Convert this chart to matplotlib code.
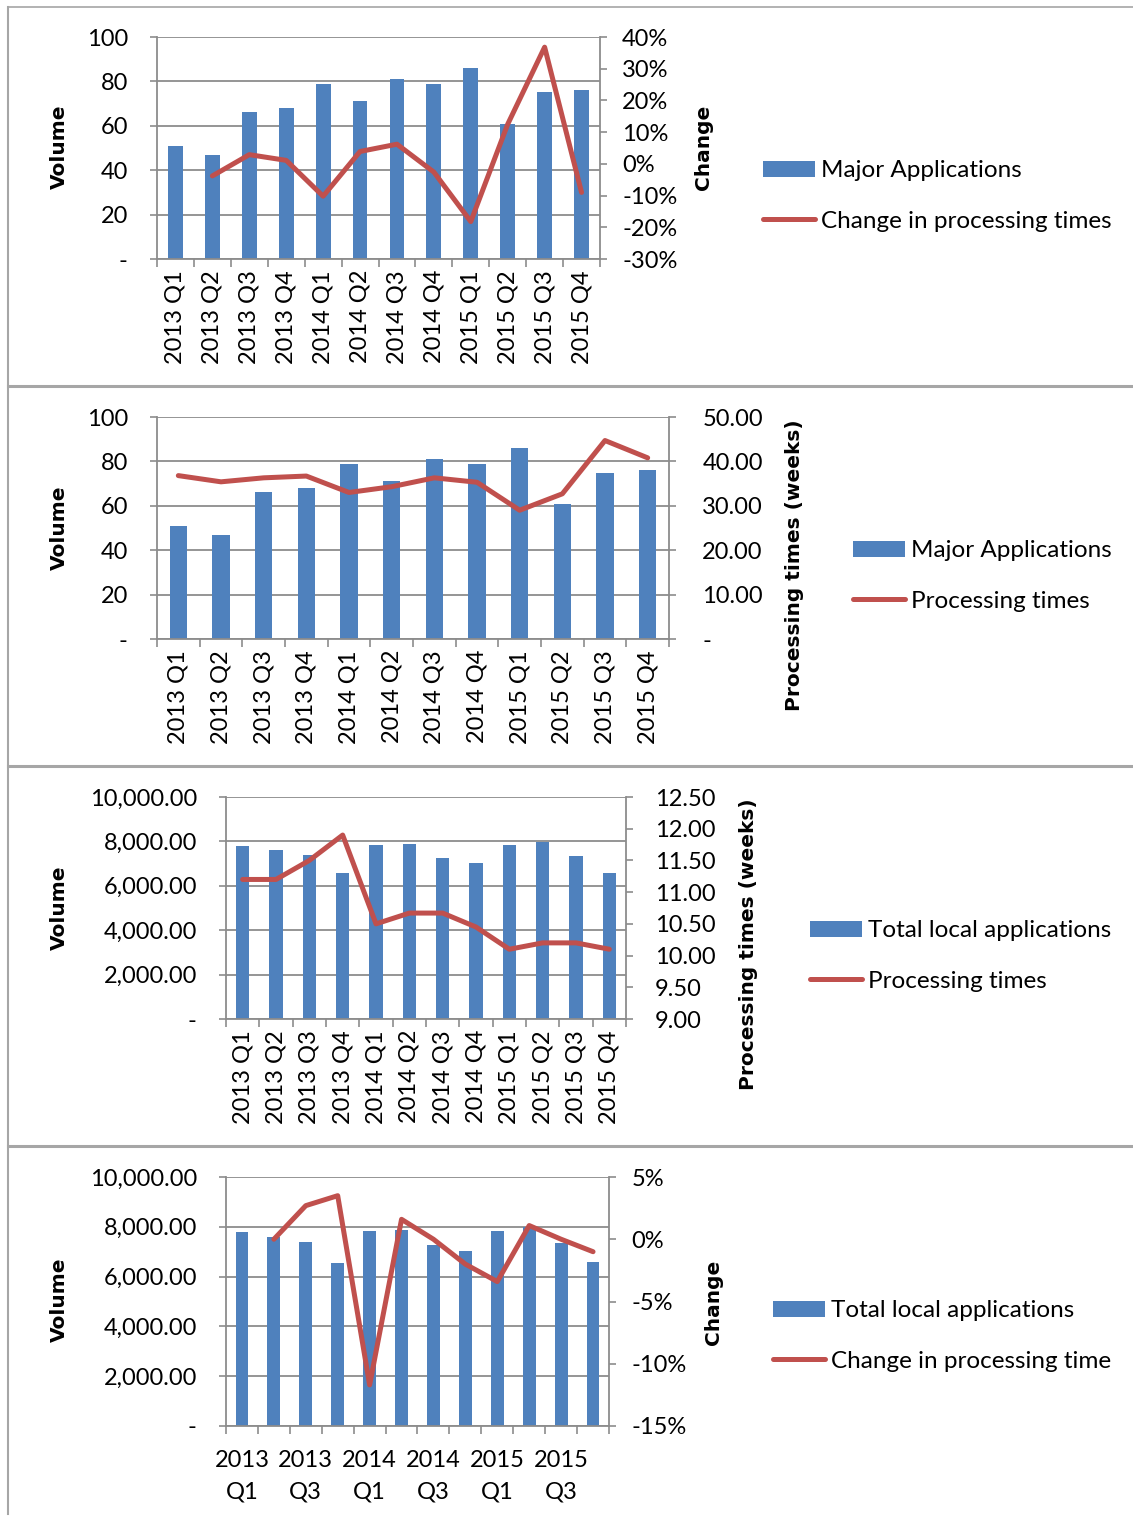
import matplotlib

matplotlib.use("Agg")

import matplotlib.pyplot as plt
import numpy as np
from matplotlib.lines import Line2D
from matplotlib.ticker import FuncFormatter, FixedLocator

# ---- data -----------------------------------------------------------------
quarters = [
    "2013 Q1", "2013 Q2", "2013 Q3", "2013 Q4",
    "2014 Q1", "2014 Q2", "2014 Q3", "2014 Q4",
    "2015 Q1", "2015 Q2", "2015 Q3", "2015 Q4",
]
major_volume = [51, 47, 66, 68, 79, 71, 81, 79, 86, 61, 75, 76]
major_times = [36.8, 35.4, 36.3, 36.7, 33.0, 34.3, 36.3, 35.3, 29.0, 32.7, 44.7, 40.8]
major_change = [np.nan, -3.8, 2.9, 1.1, -10.2, 3.9, 6.2, -2.6, -18.2, 12.5, 36.8, -9.0]

local_volume = [7780, 7610, 7370, 6560, 7840, 7880, 7250, 7030, 7840, 7990, 7340, 6580]
local_times = [11.2, 11.2, 11.5, 11.9, 10.5, 10.67, 10.67, 10.45, 10.1, 10.2, 10.2, 10.1]
local_change = [np.nan, 0.0, 2.7, 3.5, -11.7, 1.6, 0.0, -2.0, -3.4, 1.1, 0.0, -1.0]

# ---- style ----------------------------------------------------------------
W, H = 1133, 1517
BAR = "#4F81BD"
LINE = "#C0504D"
GRID = "#8C8C8C"
BORDER = "#A6A6A6"
FONT = "Lato"
TITLE_FONT = "DejaVu Sans"
FS = 17

plt.rcParams["font.family"] = [FONT, "DejaVu Sans"]
plt.rcParams["font.size"] = FS

fig = plt.figure(figsize=(W / 100, H / 100), dpi=100)


def px_axes(left, top, right, bottom):
    """Axes placed by pixel edges of the plot area."""
    return fig.add_axes([left / W, 1 - bottom / H, (right - left) / W, (bottom - top) / H])


def dash_zero(fmt):
    return FuncFormatter(lambda v, _: "-" if abs(v) < 1e-9 else fmt.format(v))


def combo_panel(box, vol, vol_ticks, vol_fmt, line_vals, line_ticks, line_fmt,
                bar_label, line_label, left_title, right_title, legend_at,
                right_pad=16, two_line_labels=False):
    left, top, right, bottom = box
    ax = px_axes(left, top, right, bottom)
    x = np.arange(len(quarters))

    bars = ax.bar(x, vol, width=0.4, color=BAR, zorder=2, label=bar_label)
    ax.set_xlim(-0.5, len(quarters) - 0.5)
    ax.set_ylim(vol_ticks[0], vol_ticks[-1])
    ax.set_yticks(vol_ticks)
    ax.yaxis.set_major_formatter(vol_fmt)
    ax.set_axisbelow(True)
    ax.grid(axis="y", color=GRID, linewidth=1.3)

    # category tick marks sit between the bars
    ax.xaxis.set_minor_locator(FixedLocator(np.arange(-0.5, len(quarters), 1.0)))
    ax.tick_params(axis="x", which="minor", length=6, width=1.2, color=GRID)
    if two_line_labels:
        ax.set_xticks(x[::2])
        ax.set_xticklabels([q.replace(" ", "\n") for q in quarters[::2]],
                           linespacing=1.62)
        ax.tick_params(axis="x", which="major", length=0, pad=17)
    else:
        ax.set_xticks(x)
        ax.set_xticklabels(quarters, rotation=90)
        ax.tick_params(axis="x", which="major", length=0, pad=8)
    ax.tick_params(axis="y", length=5, width=1.2, color=GRID, pad=16)

    for side in ("left", "bottom"):
        ax.spines[side].set_color(GRID)
        ax.spines[side].set_linewidth(1.3)
    ax.spines["top"].set_visible(False)
    ax.spines["right"].set_visible(False)

    ax2 = ax.twinx()
    (line,) = ax2.plot(x, line_vals, color=LINE, linewidth=3.6,
                       solid_capstyle="round", solid_joinstyle="round",
                       label=line_label)
    ax2.set_ylim(line_ticks[0], line_ticks[-1])
    ax2.set_yticks(line_ticks)
    ax2.yaxis.set_major_formatter(line_fmt)
    ax2.tick_params(axis="y", length=5, width=1.2, color=GRID, pad=right_pad)
    for side in ("left", "top", "bottom"):
        ax2.spines[side].set_visible(False)
    ax2.spines["right"].set_color(GRID)
    ax2.spines["right"].set_linewidth(1.3)

    # axis titles, centred on measured pixel positions
    lx, ly = left_title
    ax.set_ylabel("Volume", fontfamily=TITLE_FONT, fontweight="bold", fontsize=14.5)
    ax.yaxis.label.set_verticalalignment("center")
    ax.yaxis.set_label_coords((lx - left) / (right - left), (bottom - ly) / (bottom - top))
    rtext, rx, ry = right_title
    ax2.set_ylabel(rtext, fontfamily=TITLE_FONT, fontweight="bold", fontsize=14.5)
    ax2.yaxis.label.set_verticalalignment("center")
    ax2.yaxis.set_label_coords((rx - left) / (right - left), (bottom - ry) / (bottom - top))

    gx, gy = legend_at
    fig.legend(handles=[bars, line], loc="center left",
               bbox_to_anchor=(gx / W, 1 - gy / H), frameon=False,
               borderpad=0, borderaxespad=0, handlelength=2.15,
               handleheight=0.6, handletextpad=0.25, labelspacing=1.2,
               fontsize=17.5)
    return ax, ax2


pct = FuncFormatter(lambda v, _: f"{v:.0f}%")

combo_panel((157, 37, 600, 259), major_volume, [0, 20, 40, 60, 80, 100],
            dash_zero("{:.0f}"), major_change, [-30, -20, -10, 0, 10, 20, 30, 40], pct,
            "Major Applications", "Change in processing times",
            (59, 147), ("Change", 703, 147), (763, 196), right_pad=11)

combo_panel((157, 417, 669, 639), major_volume, [0, 20, 40, 60, 80, 100],
            dash_zero("{:.0f}"), major_times, [0, 10, 20, 30, 40, 50],
            dash_zero("{:.2f}"),
            "Major Applications", "Processing times",
            (59, 528), ("Processing times (weeks)", 795, 565), (853, 576),
            right_pad=19)

combo_panel((226, 797, 626, 1019), local_volume, [0, 2000, 4000, 6000, 8000, 10000],
            dash_zero("{:,.2f}"), local_times,
            [9.0, 9.5, 10.0, 10.5, 11.0, 11.5, 12.0, 12.5],
            FuncFormatter(lambda v, _: f"{v:.2f}"),
            "Total local applications", "Processing times",
            (59, 908), ("Processing times (weeks)", 748, 944), (810, 956),
            right_pad=16)

combo_panel((226, 1177, 609, 1426), local_volume, [0, 2000, 4000, 6000, 8000, 10000],
            dash_zero("{:,.2f}"), local_change, [-15, -10, -5, 0, 5], pct,
            "Total local applications", "Change in processing time",
            (59, 1300), ("Change", 714, 1302), (773, 1336),
            right_pad=11, two_line_labels=True)

# table cell borders around the four charts
for y, lw in ((7, 1.2), (385.5, 2.2), (765.5, 2.2), (1145.5, 2.2)):
    fig.add_artist(Line2D([8 / W, 1], [1 - y / H, 1 - y / H], color=BORDER, linewidth=lw))
fig.add_artist(Line2D([8 / W, 8 / W], [1 - 7 / H, 1 - 1514 / H], color=BORDER, linewidth=1.5))

fig.savefig("out.png", dpi=100)
